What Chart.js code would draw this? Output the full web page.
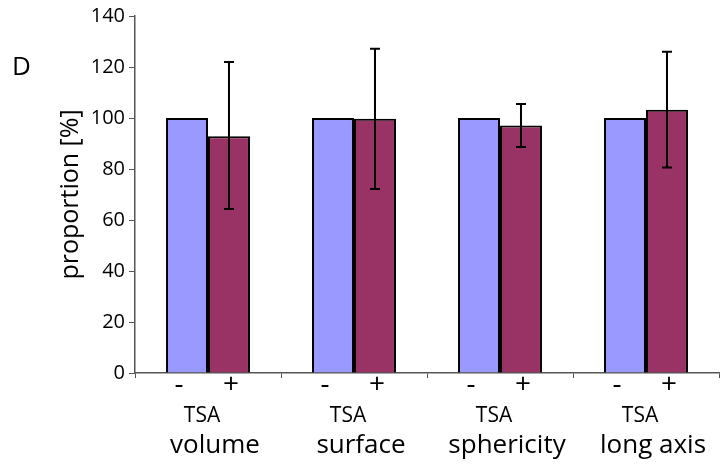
<!DOCTYPE html>
<html>
<head>
<meta charset="utf-8">
<script src="https://cdn.jsdelivr.net/npm/chart.js@4/dist/chart.umd.min.js"></script>
<style>
  html, body { margin: 0; padding: 0; background: #fff; }
  #wrap { width: 726px; height: 467px; }
</style>
</head>
<body>
<div id="wrap"><canvas id="chart" width="726" height="467"></canvas></div>
<script>
// measures
const categories = ['volume', 'surface', 'sphericity', 'long axis'];
const barSigns = ['-', '+'];
const groupLabel = 'TSA';

// bar heights (% of control)
const controlValues = [100, 100, 100, 100];
const tsaValues = [92.8, 99.7, 97.1, 103.2];

// error bar ends for TSA bars
const tsaErrHigh = [122, 127.2, 105.5, 126];
const tsaErrLow = [64.3, 72.2, 88.6, 80.6];

const yTicks = [0, 20, 40, 60, 80, 100, 120, 140];

const fontFam = '"Open Sans", "Noto Sans", sans-serif';

// draws error bars on the TSA dataset using the y scale
const errorBars = {
  id: 'errorBars',
  afterDatasetsDraw(chart) {
    const { ctx, scales: { y } } = chart;
    const meta = chart.getDatasetMeta(1);
    ctx.save();
    ctx.strokeStyle = '#000';
    ctx.lineWidth = 2;
    meta.data.forEach((bar, i) => {
      const top = y.getPixelForValue(tsaErrHigh[i]);
      const bot = y.getPixelForValue(tsaErrLow[i]);
      ctx.beginPath();
      ctx.moveTo(bar.x, top); ctx.lineTo(bar.x, bot);
      ctx.moveTo(bar.x - 5, top); ctx.lineTo(bar.x + 5, top);
      ctx.moveTo(bar.x - 5, bot); ctx.lineTo(bar.x + 5, bot);
      ctx.stroke();
    });
    ctx.restore();
  }
};

// -/+ under each bar, then TSA and measure name under each group
const groupLabels = {
  id: 'groupLabels',
  afterDraw(chart) {
    const { ctx, scales: { x } } = chart;
    const metaC = chart.getDatasetMeta(0);
    const metaT = chart.getDatasetMeta(1);
    ctx.save();
    ctx.fillStyle = '#000';
    ctx.textAlign = 'center';
    ctx.textBaseline = 'middle';
    categories.forEach((cat, i) => {
      ctx.font = '28px ' + fontFam;
      ctx.fillText(barSigns[0], metaC.data[i].x - 8, 385);
      ctx.fillText(barSigns[1], metaT.data[i].x + 2, 385);
      const cx = x.getPixelForValue(i);
      ctx.font = '21px ' + fontFam;
      ctx.fillText(groupLabel, cx - 6, 416);
      ctx.font = '26px ' + fontFam;
      ctx.fillText(cat, cx + 7, 446);
    });
    ctx.font = '26px ' + fontFam;
    ctx.textAlign = 'left';
    ctx.fillText('D', 12, 68);
    ctx.restore();
  }
};

new Chart(document.getElementById('chart'), {
  type: 'bar',
  data: {
    labels: categories,
    datasets: [
      {
        data: controlValues,
        backgroundColor: '#9999FF',
        borderColor: '#000',
        borderWidth: 2,
        barPercentage: 1,
        categoryPercentage: 0.575
      },
      {
        data: tsaValues,
        backgroundColor: '#993366',
        borderColor: '#000',
        borderWidth: 2,
        barPercentage: 1,
        categoryPercentage: 0.575
      }
    ]
  },
  options: {
    responsive: false,
    animation: false,
    layout: { padding: { top: 15, right: 7, left: 52, bottom: 0 } },
    plugins: {
      legend: { display: false },
      tooltip: { enabled: false }
    },
    scales: {
      x: {
        afterFit: (s) => { s.height = 94; },
        grid: {
          offset: true,
          drawOnChartArea: false,
          drawTicks: true,
          tickLength: 5,
          color: '#555'
        },
        border: { color: '#555', width: 1.5 },
        ticks: { display: false }
      },
      y: {
        min: 0,
        max: 140,
        afterFit: (s) => { s.width = 83; },
        afterBuildTicks: (s) => { s.ticks = yTicks.map(v => ({ value: v })); },
        grid: {
          drawOnChartArea: false,
          drawTicks: true,
          tickLength: 6,
          color: '#555'
        },
        border: { color: '#555', width: 1.5 },
        ticks: {
          color: '#000',
          padding: 4,
          font: { family: fontFam, size: 20 }
        },
        title: {
          display: true,
          text: 'proportion [%]',
          color: '#000',
          padding: { bottom: 6 },
          font: { family: fontFam, size: 25 }
        }
      }
    }
  },
  plugins: [errorBars, groupLabels]
});
</script>
</body>
</html>
